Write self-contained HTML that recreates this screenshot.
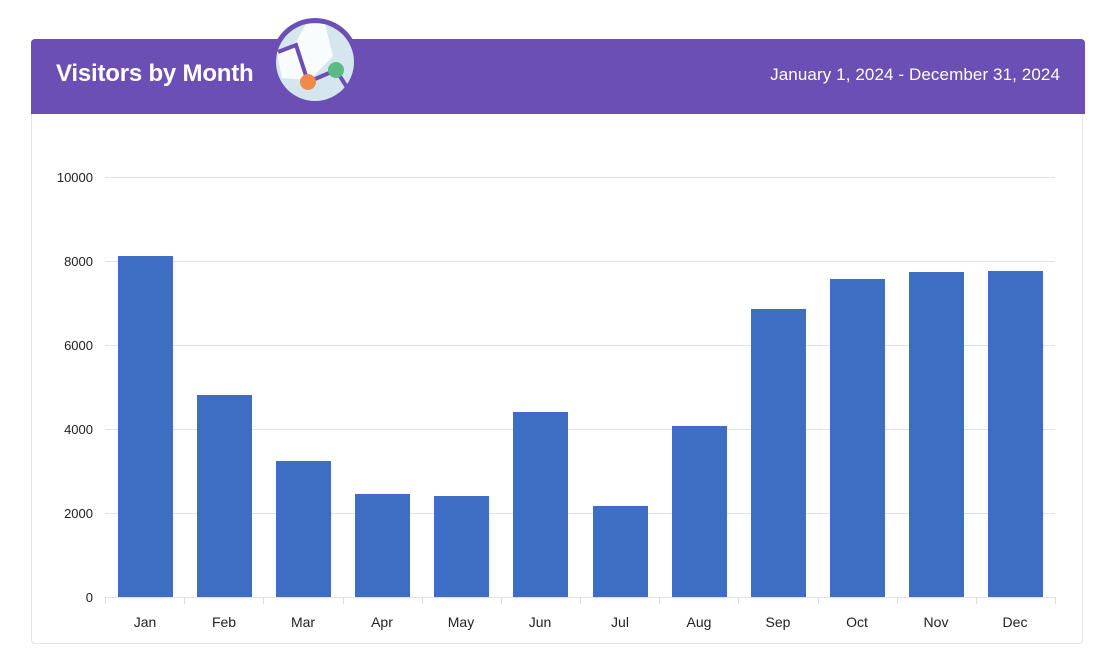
<!DOCTYPE html>
<html><head><style>
body{margin:0;width:1116px;height:670px;background:#fff;font-family:"Liberation Sans",sans-serif;position:relative;overflow:hidden}
.card{position:absolute;left:31px;top:39px;width:1052px;height:605px;border:1px solid #e3e3e3;border-radius:4px;box-sizing:border-box}
.hdr{position:absolute;left:31px;top:39px;width:1054px;height:75px;background:#6b4fb5;border-radius:4px 4px 0 0}
.t{position:absolute;left:56px;top:60px;color:#fff;font-weight:bold;font-size:24px;letter-spacing:-0.2px}
.d{position:absolute;right:56px;top:65px;color:#fff;font-size:17px;letter-spacing:0.1px}
</style></head><body>
<div class="card"></div>
<div class="hdr"></div>
<div class="t">Visitors by Month</div>
<div class="d">January 1, 2024 - December 31, 2024</div>
<svg style="position:absolute;left:0;top:0" width="1116" height="670">
<circle cx="315" cy="62" r="44" fill="#6b4fb5"/>
<circle cx="315" cy="62" r="39" fill="#d6e6ee"/>
<path d="M277 52 L296 42 L306 24 L325 24 L333 56 L310 80 L282 78 Z" fill="#fff" opacity="0.85"/>
<polyline points="278,52 296,45 308,82 336,70 350,92" fill="none" stroke="#6b4fb5" stroke-width="4"/>
<circle cx="308" cy="82" r="8" fill="#f08a4b"/>
<circle cx="336" cy="70" r="8" fill="#5bbb82"/>
<g font-size="13" fill="#222" text-anchor="end">
<g stroke="#e2e2e2" stroke-width="1">
<line x1="105" x2="1055" y1="177.5" y2="177.5"/><line x1="105" x2="1055" y1="261.5" y2="261.5"/>
<line x1="105" x2="1055" y1="345.5" y2="345.5"/><line x1="105" x2="1055" y1="429.5" y2="429.5"/>
<line x1="105" x2="1055" y1="513.5" y2="513.5"/><line x1="105" x2="1055" y1="597.5" y2="597.5"/>
</g>
<text x="93" y="182">10000</text><text x="93" y="266">8000</text><text x="93" y="350">6000</text>
<text x="93" y="434">4000</text><text x="93" y="518">2000</text><text x="93" y="602">0</text>
</g>
<g fill="#3d6ec4">
<rect x="118" y="256" width="55" height="341"/>
<rect x="197" y="395" width="55" height="202"/>
<rect x="276" y="461" width="55" height="136"/>
<rect x="355" y="494" width="55" height="103"/>
<rect x="434" y="496" width="55" height="101"/>
<rect x="513" y="412" width="55" height="185"/>
<rect x="593" y="506" width="55" height="91"/>
<rect x="672" y="426" width="55" height="171"/>
<rect x="751" y="309" width="55" height="288"/>
<rect x="830" y="279" width="55" height="318"/>
<rect x="909" y="272" width="55" height="325"/>
<rect x="988" y="271" width="55" height="326"/>
</g>
<g stroke="#ddd"><line x1="105.5" x2="105.5" y1="597" y2="604"/><line x1="184.5" x2="184.5" y1="597" y2="604"/><line x1="263.5" x2="263.5" y1="597" y2="604"/><line x1="343.5" x2="343.5" y1="597" y2="604"/><line x1="422.5" x2="422.5" y1="597" y2="604"/><line x1="501.5" x2="501.5" y1="597" y2="604"/><line x1="580.5" x2="580.5" y1="597" y2="604"/><line x1="659.5" x2="659.5" y1="597" y2="604"/><line x1="738.5" x2="738.5" y1="597" y2="604"/><line x1="818.5" x2="818.5" y1="597" y2="604"/><line x1="897.5" x2="897.5" y1="597" y2="604"/><line x1="976.5" x2="976.5" y1="597" y2="604"/><line x1="1055.5" x2="1055.5" y1="597" y2="604"/></g>
<g font-size="14" fill="#222" text-anchor="middle">
<text x="145" y="627">Jan</text><text x="224" y="627">Feb</text><text x="303" y="627">Mar</text>
<text x="382" y="627">Apr</text><text x="461" y="627">May</text><text x="540" y="627">Jun</text>
<text x="620" y="627">Jul</text><text x="699" y="627">Aug</text><text x="778" y="627">Sep</text>
<text x="857" y="627">Oct</text><text x="936" y="627">Nov</text><text x="1015" y="627">Dec</text>
</g>
</svg>
</body></html>
